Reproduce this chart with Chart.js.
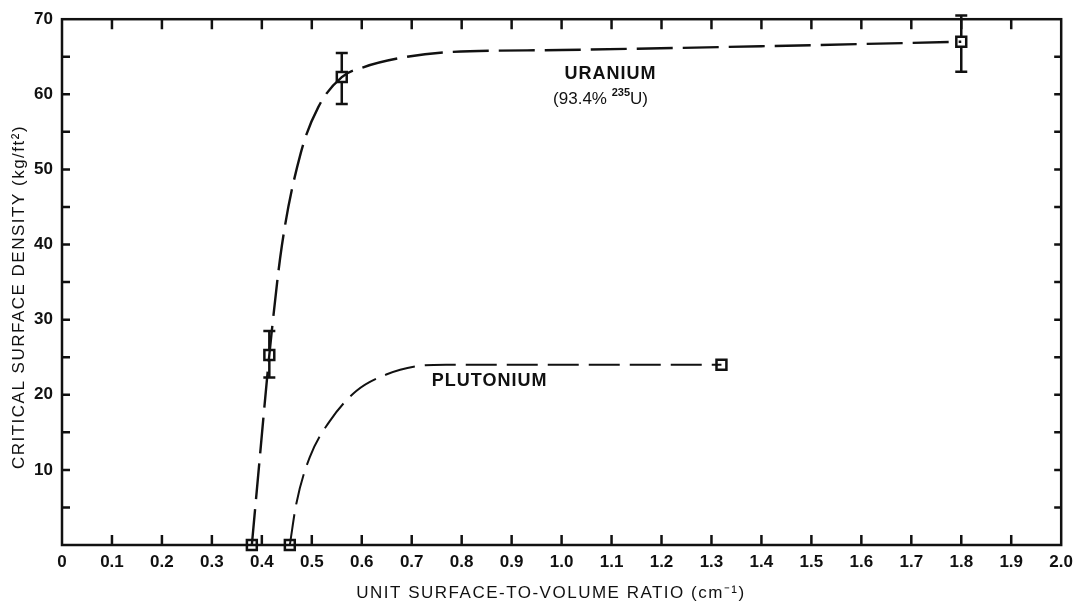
<!DOCTYPE html>
<html>
<head>
<meta charset="utf-8">
<script src="https://cdn.jsdelivr.net/npm/chart.js@4.4.1/dist/chart.umd.min.js"></script>
<style>
  html, body { margin: 0; padding: 0; background: #fff; }
  #wrap { width: 1080px; height: 602px; }
</style>
</head>
<body>
<div id="wrap"><canvas id="Chart" width="1080" height="602"></canvas></div>
<script>
// measured critical densities (x: cm^-1, y: kg/ft^2)
const URANIUM_X = [0.38, 0.415, 0.56, 1.80];
const URANIUM_Y = [0, 25.3, 62.3, 67.0];
const URANIUM_ERR_LOW = [null, 22.3, 58.7, 63.0];
const URANIUM_ERR_HIGH = [null, 28.5, 65.5, 70.5];

const PLUTONIUM_X = [0.456, 1.32];
const PLUTONIUM_Y = [0, 24.0];

// faired curves through the measurements
const URANIUM_CURVE_X = [0.38, 0.396, 0.415, 0.44, 0.478, 0.513, 0.56, 0.603, 0.682, 0.769, 1.0, 1.4, 1.8];
const URANIUM_CURVE_Y = [0, 11.7, 25.3, 39.8, 52.2, 58.3, 62.3, 63.6, 64.9, 65.6, 65.9, 66.4, 67.0];
const PLUTONIUM_CURVE_X = [0.456, 0.469, 0.496, 0.536, 0.589, 0.649, 0.709, 0.769, 1.0, 1.32];
const PLUTONIUM_CURVE_Y = [0, 5.5, 11.7, 16.5, 20.5, 22.7, 23.8, 24.0, 24.0, 24.0];

const X_TICKS = [0, 0.1, 0.2, 0.3, 0.4, 0.5, 0.6, 0.7, 0.8, 0.9, 1.0, 1.1, 1.2, 1.3, 1.4, 1.5, 1.6, 1.7, 1.8, 1.9, 2.0];
const X_TICK_LABELS = ['0', '0.1', '0.2', '0.3', '0.4', '0.5', '0.6', '0.7', '0.8', '0.9', '1.0', '1.1', '1.2', '1.3', '1.4', '1.5', '1.6', '1.7', '1.8', '1.9', '2.0'];
const Y_TICKS = [10, 20, 30, 40, 50, 60, 70];
const Y_TICK_LABELS = ['10', '20', '30', '40', '50', '60', '70'];
const Y_MARKS = [5, 10, 15, 20, 25, 30, 35, 40, 45, 50, 55, 60, 65];

const X_TITLE = 'UNIT SURFACE-TO-VOLUME RATIO (cm\u207B\u00B9)';
const Y_TITLE = 'CRITICAL SURFACE DENSITY (kg/ft\u00B2)';

const INK = '#111';
const FONT = '"Liberation Sans", Arial, sans-serif';

const toPoints = (xs, ys) => xs.map((x, i) => ({ x, y: ys[i] }));

// vertical error bars with caps, drawn under the markers
const errorBars = {
    id: 'errorBars',
    beforeDatasetsDraw(chart) {
        const { ctx, scales: { x, y } } = chart;
        ctx.save();
        ctx.strokeStyle = INK;
        ctx.lineWidth = 2.5;
        chart.data.datasets.forEach(ds => {
            if (!ds.errHigh) return;
            ds.data.forEach((p, i) => {
                if (ds.errHigh[i] == null) return;
                const px = x.getPixelForValue(p.x);
                const top = y.getPixelForValue(ds.errHigh[i]);
                const bot = y.getPixelForValue(ds.errLow[i]);
                ctx.beginPath();
                ctx.moveTo(px, top); ctx.lineTo(px, bot);
                ctx.moveTo(px - 6, top); ctx.lineTo(px + 6, top);
                ctx.moveTo(px - 6, bot); ctx.lineTo(px + 6, bot);
                ctx.stroke();
            });
        });
        ctx.restore();
    }
};

// closed frame with inward tick marks on all four sides
const frame = {
    id: 'frame',
    afterDraw(chart) {
        const { ctx, chartArea: a, scales: { x, y } } = chart;
        ctx.save();
        ctx.strokeStyle = INK;
        ctx.lineWidth = 2.5;
        ctx.strokeRect(a.left, a.top, a.right - a.left, a.bottom - a.top);
        ctx.beginPath();
        X_TICKS.slice(1, -1).forEach(v => {
            const px = x.getPixelForValue(v);
            ctx.moveTo(px, a.bottom); ctx.lineTo(px, a.bottom - 10);
            ctx.moveTo(px, a.top); ctx.lineTo(px, a.top + 10);
        });
        Y_MARKS.forEach(v => {
            const py = y.getPixelForValue(v);
            ctx.moveTo(a.left, py); ctx.lineTo(a.left + 8, py);
            ctx.moveTo(a.right, py); ctx.lineTo(a.right - 7, py);
        });
        ctx.stroke();
        ctx.restore();
    }
};

// axis titles and curve names
const captions = {
    id: 'captions',
    afterDraw(chart) {
        const { ctx, scales: { x, y } } = chart;
        ctx.save();
        ctx.fillStyle = INK;
        ctx.textAlign = 'center';
        ctx.textBaseline = 'middle';

        ctx.font = '17px ' + FONT;
        ctx.letterSpacing = '1.5px';
        ctx.fillText(X_TITLE, 551, 593);

        ctx.save();
        ctx.translate(19, 297);
        ctx.rotate(-Math.PI / 2);
        ctx.fillText(Y_TITLE, 0, 0);
        ctx.restore();

        ctx.font = 'bold 18px ' + FONT;
        ctx.letterSpacing = '1px';
        ctx.fillText('URANIUM', x.getPixelForValue(1.098), y.getPixelForValue(62.7));
        ctx.fillText('PLUTONIUM', x.getPixelForValue(0.856), y.getPixelForValue(21.8));

        // (93.4% 235U) with raised mass number
        ctx.letterSpacing = '0px';
        ctx.textAlign = 'left';
        const cx = x.getPixelForValue(1.078), cy = y.getPixelForValue(59.4);
        const a = '(93.4% ', b = '235', c = 'U)';
        ctx.font = '17px ' + FONT;
        const wa = ctx.measureText(a).width, wc = ctx.measureText(c).width;
        ctx.font = 'bold 11px ' + FONT;
        const wb = ctx.measureText(b).width;
        let px = cx - (wa + wb + wc) / 2;
        ctx.font = '17px ' + FONT;
        ctx.fillText(a, px, cy);
        px += wa;
        ctx.font = 'bold 11px ' + FONT;
        ctx.fillText(b, px, cy - 6);
        px += wb;
        ctx.font = '17px ' + FONT;
        ctx.fillText(c, px, cy);
        ctx.restore();
    }
};

const markerStyle = {
    showLine: false,
    pointStyle: 'rect',
    pointRadius: 7,
    pointBorderWidth: 2.5,
    pointBorderColor: INK,
    pointBackgroundColor: '#fff',
    clip: false
};

const curveStyle = {
    showLine: true,
    borderColor: INK,
    pointRadius: 0,
    cubicInterpolationMode: 'monotone',
    fill: false,
    clip: false
};

const data = {
    datasets: [
        { ...curveStyle, label: 'Uranium curve', data: toPoints(URANIUM_CURVE_X, URANIUM_CURVE_Y), borderWidth: 2.4, borderDash: [36, 10] },
        { ...curveStyle, label: 'Plutonium curve', data: toPoints(PLUTONIUM_CURVE_X, PLUTONIUM_CURVE_Y), borderWidth: 2, borderDash: [31, 10] },
        { ...markerStyle, label: 'Uranium', data: toPoints(URANIUM_X, URANIUM_Y), errLow: URANIUM_ERR_LOW, errHigh: URANIUM_ERR_HIGH },
        { ...markerStyle, label: 'Plutonium', data: toPoints(PLUTONIUM_X, PLUTONIUM_Y) }
    ]
};

const tickFont = { family: FONT, size: 17, weight: 'bold' };

const config = {
    type: 'scatter',
    data,
    options: {
        responsive: false,
        animation: false,
        layout: { padding: { top: 15, right: 18, left: 0, bottom: 0 } },
        scales: {
            x: {
                type: 'linear',
                min: 0,
                max: 2.0,
                grid: { display: false, drawTicks: false },
                border: { display: false },
                afterBuildTicks: s => { s.ticks = X_TICKS.map(v => ({ value: v })); },
                afterFit: s => { s.height = 57; },
                ticks: {
                    color: INK,
                    font: tickFont,
                    padding: 7,
                    autoSkip: false,
                    maxRotation: 0,
                    callback: (v, i) => X_TICK_LABELS[i]
                }
            },
            y: {
                type: 'linear',
                min: 0,
                max: 70,
                grid: { display: false, drawTicks: false },
                border: { display: false },
                afterBuildTicks: s => { s.ticks = Y_TICKS.map(v => ({ value: v })); },
                afterFit: s => { s.width = 62; },
                ticks: {
                    color: INK,
                    font: tickFont,
                    padding: 9,
                    autoSkip: false,
                    callback: (v, i) => Y_TICK_LABELS[i]
                }
            }
        },
        plugins: {
            legend: { display: false },
            tooltip: { enabled: false }
        }
    },
    plugins: [errorBars, frame, captions]
};

const myChart = new Chart(document.getElementById('Chart'), config);
</script>
</body>
</html>
